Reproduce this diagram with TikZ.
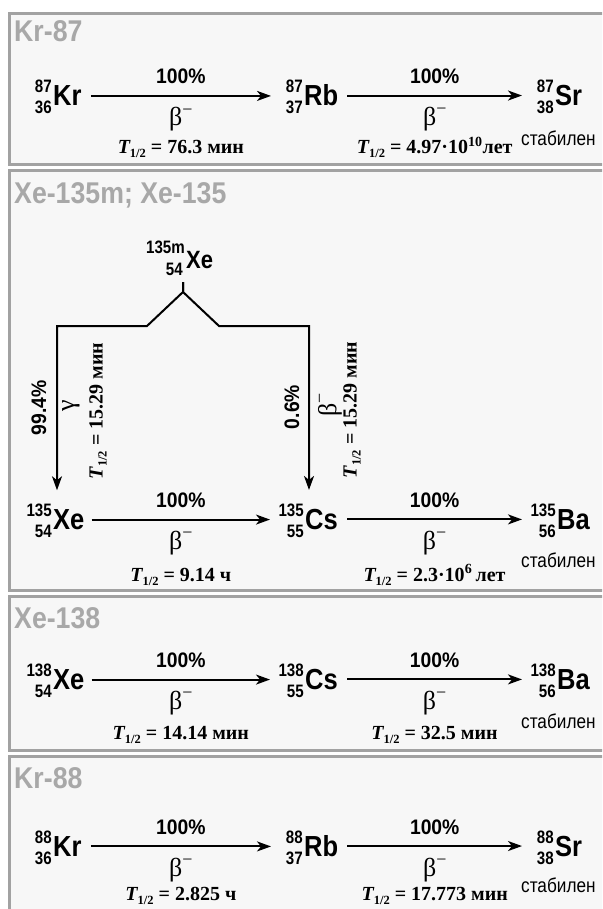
\documentclass[tikz,border=0pt]{standalone}
\usepackage{fontspec}
\setmainfont{Liberation Serif}
\newfontfamily\nsans[FakeStretch=0.88]{Liberation Sans}
\newfontfamily\tsans[FakeStretch=0.89]{Liberation Sans}
\newfontfamily\nsansnum[FakeStretch=0.84]{Liberation Sans}
\newfontfamily\psans[FakeStretch=0.92]{Liberation Sans}
\newfontfamily\stabsans[FakeStretch=0.86]{Liberation Sans}
\usetikzlibrary{arrows.meta,calc}
\definecolor{panelfill}{HTML}{F7F7F7}
\definecolor{panelline}{HTML}{A2A2A2}
\definecolor{titlegray}{HTML}{A8A8A8}
\newcommand{\Th}{{\itshape T}\raisebox{-4pt}{\fontsize{12.5}{12.5}\selectfont 1/2}}
\newcommand{\bmin}{β\raisebox{0.42em}{\fontsize{18}{18}\selectfont −}}
\tikzset{
  panel/.style={draw=panelline, fill=panelfill, line width=3pt},
  title/.style={anchor=base west, inner sep=0pt, text=titlegray, font=\tsans\bfseries\fontsize{30}{30}\selectfont},
  sym/.style={anchor=base west, inner sep=0pt, font=\nsans\bfseries\fontsize{29}{29}\selectfont},
  symsmall/.style={anchor=base west, inner sep=0pt, font=\nsans\bfseries\fontsize{25}{25}\selectfont},
  num/.style={anchor=base east, inner sep=0pt, font=\nsansnum\bfseries\fontsize{18}{18}\selectfont},
  pct/.style={anchor=base, inner sep=0pt, font=\psans\bfseries\fontsize{21}{21}\selectfont},
  greek/.style={anchor=base, inner sep=0pt, font=\fontsize{26}{26}\selectfont},
  thalf/.style={anchor=base, inner sep=0pt, font=\bfseries\fontsize{20}{20}\selectfont},
  stab/.style={anchor=base west, inner sep=0pt, font=\stabsans\fontsize{20}{20}\selectfont},
  arr/.style={line width=2pt, -{Stealth[length=14pt,width=10pt,inset=4pt]}},
  vlab/.style={rotate=90, anchor=center, inner sep=0pt}
}
\begin{document}
\begin{tikzpicture}[x=1pt,y=-1pt]
\useasboundingbox (0,0) rectangle (602,909);
\clip (0,0) rectangle (602,909);
\fill[white] (0,0) rectangle (602,909);
% panels
\draw[panel] (9.5,14) rectangle (640,164.7);
\draw[panel] (9.5,171) rectangle (640,590.7);
\draw[panel] (9.5,596) rectangle (640,750.7);
\draw[panel] (9.5,756) rectangle (640,960);
% titles
\node[title] (t1) at (14,42) {Kr-87};
\node[title] (t2) at (14,204) {Xe-135m; Xe-135};
\node[title] (t3) at (14,628) {Xe-138};
\node[title] (t4) at (14,788) {Kr-88};

% ---------- Row 1 (a = 95.5)
\node[sym] (kr1) at (53,105.9) {Kr};
\node[num] (kr1u) at ([xshift=-1pt,yshift=13pt]kr1.base west) {87};
\node[num] (kr1d) at ([xshift=-1pt,yshift=-8pt]kr1.base west) {36};
\node[sym] (rb1) at (304,105.9) {Rb};
\node[num] (rb1u) at ([xshift=-1pt,yshift=13pt]rb1.base west) {87};
\node[num] (rb1d) at ([xshift=-1pt,yshift=-8pt]rb1.base west) {37};
\node[sym] (sr1) at (555,105.9) {Sr};
\node[num] (sr1u) at ([xshift=-1pt,yshift=13pt]sr1.base west) {87};
\node[num] (sr1d) at ([xshift=-1pt,yshift=-8pt]sr1.base west) {38};
\node[stab] (st1) at (521,146) {стабилен};
\draw[arr] ([xshift=9pt]kr1.east) -- ([xshift=-33pt]kr1.east -| rb1.west)
  node[pct,midway,yshift=12pt] (p11) {100\%}
  node[greek,midway,yshift=-30pt] (b11) {\bmin}
  node[thalf,midway,yshift=-58pt] (h11) {\Th\ = 76.3 мин};
\draw[arr] ([xshift=9pt]rb1.east) -- ([xshift=-33pt]rb1.east -| sr1.west)
  node[pct,midway,yshift=12pt] (p12) {100\%}
  node[greek,midway,yshift=-30pt] (b12) {\bmin}
  node[thalf,midway,yshift=-58pt] (h12) {\Th\ = 4.97·10\textsuperscript{10}лет};

% ---------- Row 2 top isomer
\node[symsmall] (xem) at (186,268) {Xe};
\node[num] (xemu) at ([xshift=-1pt,yshift=15pt]xem.base west) {135m};
\node[num] (xemd) at ([xshift=-3pt,yshift=-7pt]xem.base west) {54};
\coordinate (ticktop) at (183,282);
\coordinate (apex) at (183,292);
\coordinate (lbend) at (147,326);
\coordinate (rbend) at (219,326);
\coordinate (lcorner) at (57,326);
\coordinate (rcorner) at (309,326);

% ---------- Row 2 (a = 519)
\node[sym] (xe2) at (53,529.4) {Xe};
\node[num] (xe2u) at ([xshift=-1pt,yshift=13pt]xe2.base west) {135};
\node[num] (xe2d) at ([xshift=-1pt,yshift=-8pt]xe2.base west) {54};
\node[sym] (cs2) at (305,529.4) {Cs};
\node[num] (cs2u) at ([xshift=-1pt,yshift=13pt]cs2.base west) {135};
\node[num] (cs2d) at ([xshift=-1pt,yshift=-8pt]cs2.base west) {55};
\node[sym] (ba2) at (557,529.4) {Ba};
\node[num] (ba2u) at ([xshift=-1pt,yshift=13pt]ba2.base west) {135};
\node[num] (ba2d) at ([xshift=-1pt,yshift=-8pt]ba2.base west) {56};
\node[stab] (st2) at (521,567) {стабилен};
\draw[arr] ([xshift=7pt]xe2.east) -- ([xshift=-35pt]xe2.east -| cs2.west)
  node[pct,midway,yshift=12pt] (p21) {100\%}
  node[greek,midway,yshift=-30pt] (b21) {\bmin}
  node[thalf,midway,yshift=-62pt] (h21) {\Th\ = 9.14 ч};
\draw[arr] ([xshift=9pt]cs2.east) -- ([xshift=-35pt]cs2.east -| ba2.west)
  node[pct,midway,yshift=12pt] (p22) {100\%}
  node[greek,midway,yshift=-30pt] (b22) {\bmin}
  node[thalf,midway,yshift=-62pt] (h22) {\Th\ = 2.3·10\textsuperscript{6}\,лет};

% tree
\draw[arr, shorten >=19pt] (ticktop) -- (apex) -- (lbend) -- (lcorner) -- (lcorner |- xe2.north);
\draw[arr, shorten >=19pt] (ticktop) -- (apex) -- (rbend) -- (rcorner) -- (rcorner |- cs2.north);
\node[vlab, font=\psans\bfseries\fontsize{21}{21}\selectfont] (v1) at (39,408) {99.4\%};
\node[vlab, font=\fontsize{26}{26}\selectfont] (v2) at (71,406) {γ};
\node[vlab, font=\bfseries\fontsize{20}{20}\selectfont] (v3) at (98,411) {\Th\ = 15.29 мин};
\node[vlab, font=\psans\bfseries\fontsize{21}{21}\selectfont] (v4) at (292,407) {0.6\%};
\node[vlab, font=\fontsize{26}{26}\selectfont] (v5) at (330,405) {\bmin};
\node[vlab, font=\bfseries\fontsize{20}{20}\selectfont] (v6) at (352,410) {\Th\ = 15.29 мин};

% ---------- Row 3 (a = 679)
\node[sym] (xe3) at (53,689.4) {Xe};
\node[num] (xe3u) at ([xshift=-1pt,yshift=13pt]xe3.base west) {138};
\node[num] (xe3d) at ([xshift=-1pt,yshift=-8pt]xe3.base west) {54};
\node[sym] (cs3) at (305,689.4) {Cs};
\node[num] (cs3u) at ([xshift=-1pt,yshift=13pt]cs3.base west) {138};
\node[num] (cs3d) at ([xshift=-1pt,yshift=-8pt]cs3.base west) {55};
\node[sym] (ba3) at (557,689.4) {Ba};
\node[num] (ba3u) at ([xshift=-1pt,yshift=13pt]ba3.base west) {138};
\node[num] (ba3d) at ([xshift=-1pt,yshift=-8pt]ba3.base west) {56};
\node[stab] (st3) at (521,728) {стабилен};
\draw[arr] ([xshift=7pt]xe3.east) -- ([xshift=-35pt]xe3.east -| cs3.west)
  node[pct,midway,yshift=12pt] (p31) {100\%}
  node[greek,midway,yshift=-30pt] (b31) {\bmin}
  node[thalf,midway,yshift=-60pt] (h31) {\Th\ = 14.14 мин};
\draw[arr] ([xshift=9pt]cs3.east) -- ([xshift=-35pt]cs3.east -| ba3.west)
  node[pct,midway,yshift=12pt] (p32) {100\%}
  node[greek,midway,yshift=-30pt] (b32) {\bmin}
  node[thalf,midway,yshift=-60pt] (h32) {\Th\ = 32.5 мин};

% ---------- Row 4 (a = 846)
\node[sym] (kr4) at (53,856.4) {Kr};
\node[num] (kr4u) at ([xshift=-1pt,yshift=13pt]kr4.base west) {88};
\node[num] (kr4d) at ([xshift=-1pt,yshift=-8pt]kr4.base west) {36};
\node[sym] (rb4) at (304,856.4) {Rb};
\node[num] (rb4u) at ([xshift=-1pt,yshift=13pt]rb4.base west) {88};
\node[num] (rb4d) at ([xshift=-1pt,yshift=-8pt]rb4.base west) {37};
\node[sym] (sr4) at (555,856.4) {Sr};
\node[num] (sr4u) at ([xshift=-1pt,yshift=13pt]sr4.base west) {88};
\node[num] (sr4d) at ([xshift=-1pt,yshift=-8pt]sr4.base west) {38};
\node[stab] (st4) at (521,892) {стабилен};
\draw[arr] ([xshift=9pt]kr4.east) -- ([xshift=-33pt]kr4.east -| rb4.west)
  node[pct,midway,yshift=12pt] (p41) {100\%}
  node[greek,midway,yshift=-30pt] (b41) {\bmin}
  node[thalf,midway,yshift=-54pt] (h41) {\Th\ = 2.825 ч};
\draw[arr] ([xshift=9pt]rb4.east) -- ([xshift=-33pt]rb4.east -| sr4.west)
  node[pct,midway,yshift=12pt] (p42) {100\%}
  node[greek,midway,yshift=-30pt] (b42) {\bmin}
  node[thalf,midway,yshift=-54pt] (h42) {\Th\ = 17.773 мин};
\end{tikzpicture}
\end{document}
